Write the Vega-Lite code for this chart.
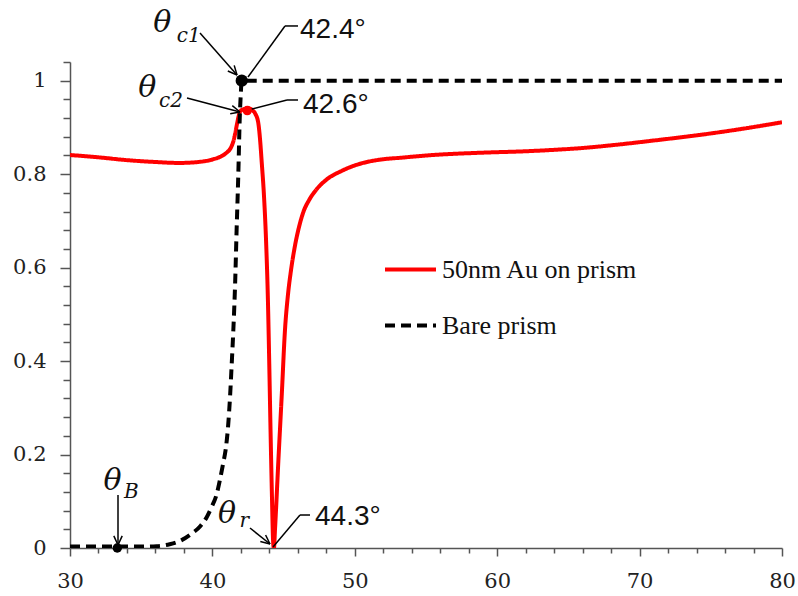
{
  "$schema": "https://vega.github.io/schema/vega-lite/v6.json",
  "width": 712,
  "height": 486,
  "autosize": {"type": "none"},
  "padding": {"left": 70, "top": 62, "right": 16, "bottom": 48},
  "background": "white",
  "config": {
    "view": {"stroke": null},
    "axis": {"grid": false, "title": null}
  },
  "datasets": {
    "curves": [
      {"x": 30, "y": 0.841, "series": "50nm Au on prism"},
      {"x": 32, "y": 0.836, "series": "50nm Au on prism"},
      {"x": 34, "y": 0.83, "series": "50nm Au on prism"},
      {"x": 36, "y": 0.826, "series": "50nm Au on prism"},
      {"x": 37.7, "y": 0.824, "series": "50nm Au on prism"},
      {"x": 39, "y": 0.826, "series": "50nm Au on prism"},
      {"x": 40.07, "y": 0.832, "series": "50nm Au on prism"},
      {"x": 40.6, "y": 0.838, "series": "50nm Au on prism"},
      {"x": 41.0, "y": 0.846, "series": "50nm Au on prism"},
      {"x": 41.3, "y": 0.857, "series": "50nm Au on prism"},
      {"x": 41.47, "y": 0.87, "series": "50nm Au on prism"},
      {"x": 41.6, "y": 0.887, "series": "50nm Au on prism"},
      {"x": 41.72, "y": 0.906, "series": "50nm Au on prism"},
      {"x": 41.85, "y": 0.925, "series": "50nm Au on prism"},
      {"x": 41.94, "y": 0.934, "series": "50nm Au on prism"},
      {"x": 42.2, "y": 0.939, "series": "50nm Au on prism"},
      {"x": 42.52, "y": 0.941, "series": "50nm Au on prism"},
      {"x": 42.8, "y": 0.937, "series": "50nm Au on prism"},
      {"x": 43.0, "y": 0.93, "series": "50nm Au on prism"},
      {"x": 43.22, "y": 0.91, "series": "50nm Au on prism"},
      {"x": 43.35, "y": 0.873, "series": "50nm Au on prism"},
      {"x": 43.46, "y": 0.827, "series": "50nm Au on prism"},
      {"x": 43.62, "y": 0.755, "series": "50nm Au on prism"},
      {"x": 43.78, "y": 0.648, "series": "50nm Au on prism"},
      {"x": 43.89, "y": 0.541, "series": "50nm Au on prism"},
      {"x": 43.99, "y": 0.399, "series": "50nm Au on prism"},
      {"x": 44.08, "y": 0.256, "series": "50nm Au on prism"},
      {"x": 44.18, "y": 0.113, "series": "50nm Au on prism"},
      {"x": 44.27, "y": 0.01, "series": "50nm Au on prism"},
      {"x": 44.32, "y": 0.0, "series": "50nm Au on prism"},
      {"x": 44.4, "y": 0.042, "series": "50nm Au on prism"},
      {"x": 44.63, "y": 0.185, "series": "50nm Au on prism"},
      {"x": 44.87, "y": 0.327, "series": "50nm Au on prism"},
      {"x": 45.1, "y": 0.468, "series": "50nm Au on prism"},
      {"x": 45.3, "y": 0.54, "series": "50nm Au on prism"},
      {"x": 45.5, "y": 0.59, "series": "50nm Au on prism"},
      {"x": 45.8, "y": 0.647, "series": "50nm Au on prism"},
      {"x": 46.1, "y": 0.689, "series": "50nm Au on prism"},
      {"x": 46.4, "y": 0.72, "series": "50nm Au on prism"},
      {"x": 46.8, "y": 0.745, "series": "50nm Au on prism"},
      {"x": 47.3, "y": 0.767, "series": "50nm Au on prism"},
      {"x": 48.0, "y": 0.788, "series": "50nm Au on prism"},
      {"x": 49.08, "y": 0.807, "series": "50nm Au on prism"},
      {"x": 50.13, "y": 0.82, "series": "50nm Au on prism"},
      {"x": 51.0, "y": 0.827, "series": "50nm Au on prism"},
      {"x": 52.0, "y": 0.832, "series": "50nm Au on prism"},
      {"x": 53.17, "y": 0.835, "series": "50nm Au on prism"},
      {"x": 55.5, "y": 0.841, "series": "50nm Au on prism"},
      {"x": 59.0, "y": 0.846, "series": "50nm Au on prism"},
      {"x": 62.0, "y": 0.849, "series": "50nm Au on prism"},
      {"x": 64, "y": 0.852, "series": "50nm Au on prism"},
      {"x": 66, "y": 0.856, "series": "50nm Au on prism"},
      {"x": 68.4, "y": 0.863, "series": "50nm Au on prism"},
      {"x": 71, "y": 0.872, "series": "50nm Au on prism"},
      {"x": 74.24, "y": 0.884, "series": "50nm Au on prism"},
      {"x": 77, "y": 0.896, "series": "50nm Au on prism"},
      {"x": 80, "y": 0.911, "series": "50nm Au on prism"},
      {"x": 30, "y": 0.003, "series": "Bare prism"},
      {"x": 33, "y": 0.003, "series": "Bare prism"},
      {"x": 35, "y": 0.003, "series": "Bare prism"},
      {"x": 36.09, "y": 0.004, "series": "Bare prism"},
      {"x": 37, "y": 0.008, "series": "Bare prism"},
      {"x": 37.72, "y": 0.015, "series": "Bare prism"},
      {"x": 38.5, "y": 0.03, "series": "Bare prism"},
      {"x": 39.13, "y": 0.046, "series": "Bare prism"},
      {"x": 39.6, "y": 0.066, "series": "Bare prism"},
      {"x": 39.95, "y": 0.088, "series": "Bare prism"},
      {"x": 40.3, "y": 0.115, "series": "Bare prism"},
      {"x": 40.53, "y": 0.146, "series": "Bare prism"},
      {"x": 40.75, "y": 0.18, "series": "Bare prism"},
      {"x": 40.96, "y": 0.217, "series": "Bare prism"},
      {"x": 41.1, "y": 0.26, "series": "Bare prism"},
      {"x": 41.24, "y": 0.324, "series": "Bare prism"},
      {"x": 41.35, "y": 0.39, "series": "Bare prism"},
      {"x": 41.47, "y": 0.466, "series": "Bare prism"},
      {"x": 41.6, "y": 0.57, "series": "Bare prism"},
      {"x": 41.7, "y": 0.68, "series": "Bare prism"},
      {"x": 41.82, "y": 0.8, "series": "Bare prism"},
      {"x": 41.92, "y": 0.92, "series": "Bare prism"},
      {"x": 42.0, "y": 0.975, "series": "Bare prism"},
      {"x": 42.05, "y": 1.0, "series": "Bare prism"},
      {"x": 80, "y": 1.0, "series": "Bare prism"}
    ],
    "blackdots": [
      {"x": 42.06, "y": 1.0, "size": "big"},
      {"x": 33.32, "y": 0.0, "size": "small"}
    ],
    "peak": [
      {"x": 42.45, "y": 0.936}
    ],
    "segments": [
      {"x": 39.129, "y": 1.1021, "x2": 41.728, "y2": 1.0122},
      {"x": 41.728, "y": 1.0122, "x2": 41.531, "y2": 1.0327},
      {"x": 41.728, "y": 1.0122, "x2": 41.082, "y2": 1.0208},
      {"x": 38.216, "y": 0.963, "x2": 41.938, "y2": 0.933},
      {"x": 41.938, "y": 0.933, "x2": 41.397, "y2": 0.9467},
      {"x": 41.938, "y": 0.933, "x2": 41.25, "y2": 0.9292},
      {"x": 33.371, "y": 0.1134, "x2": 33.371, "y2": 0.0064},
      {"x": 33.371, "y": 0.0064, "x2": 33.666, "y2": 0.0259},
      {"x": 33.371, "y": 0.0064, "x2": 33.076, "y2": 0.0259},
      {"x": 42.64, "y": 0.0428, "x2": 44.045, "y2": 0.0086},
      {"x": 44.045, "y": 0.0086, "x2": 43.736, "y2": 0.0278},
      {"x": 44.045, "y": 0.0086, "x2": 43.364, "y2": 0.0137},
      {"x": 45.098, "y": 1.1171, "x2": 46.011, "y2": 1.1171},
      {"x": 45.098, "y": 1.1171, "x2": 42.5, "y2": 1.0079},
      {"x": 45.239, "y": 0.9587, "x2": 46.011, "y2": 0.9587},
      {"x": 45.239, "y": 0.9587, "x2": 42.5, "y2": 0.9373},
      {"x": 46.152, "y": 0.0706, "x2": 46.854, "y2": 0.0706},
      {"x": 46.152, "y": 0.0706, "x2": 44.256, "y2": 0.0021}
    ],
    "anglelabels": [
      {"x": 46.152, "y": 1.0914, "text": "42.4°"},
      {"x": 46.362, "y": 0.9309, "text": "42.6°"},
      {"x": 47.205, "y": 0.0492, "text": "44.3°"}
    ],
    "thetas": [
      {"x": 35.85, "y": 1.1042, "text": "θ"},
      {"x": 34.8, "y": 0.9651, "text": "θ"},
      {"x": 32.35, "y": 0.1241, "text": "θ"},
      {"x": 40.4, "y": 0.0535, "text": "θ"}
    ],
    "subs": [
      {"x": 37.5, "y": 1.0828, "text": "c1"},
      {"x": 36.25, "y": 0.9437, "text": "c2"},
      {"x": 33.8, "y": 0.107, "text": "B"},
      {"x": 41.9, "y": 0.0449, "text": "r"}
    ]
  },
  "layer": [
    {
      "data": {"name": "curves"},
      "mark": {"type": "line", "strokeWidth": 4, "interpolate": "monotone", "clip": true},
      "encoding": {
        "x": {
          "field": "x", "type": "quantitative",
          "scale": {"domain": [30, 80], "nice": false, "zero": false},
          "axis": {
            "values": [30, 32, 34, 36, 38, 40, 42, 44, 46, 48, 50, 52, 54, 56, 58, 60, 62, 64, 66, 68, 70, 72, 74, 76, 78, 80],
            "tickCount": 200,
            "labelExpr": "datum.value % 10 == 0 ? datum.label : ''",
            "format": "~g",
            "tickSize": {"condition": {"test": "datum.value % 10 == 0", "value": 8}, "value": 5},
            "labelPadding": 14,
            "labelFlush": false,
            "labelOverlap": false,
            "labelBound": false,
            "domainColor": "#555555",
            "domainWidth": 1.5,
            "tickColor": "#555555",
            "tickWidth": 1.5,
            "labelFont": "DejaVu Serif",
            "labelFontSize": 21,
            "labelColor": "#222222",
            "title": null
          }
        },
        "y": {
          "field": "y", "type": "quantitative",
          "scale": {"domain": [0, 1.04], "nice": false, "zero": false},
          "axis": {
            "values": [0, 0.04, 0.08, 0.12, 0.16, 0.2, 0.24, 0.28, 0.32, 0.36, 0.4, 0.44, 0.48, 0.52, 0.56, 0.6, 0.64, 0.68, 0.72, 0.76, 0.8, 0.84, 0.88, 0.92, 0.96, 1, 1.04],
            "tickCount": 200,
            "labelExpr": "abs(datum.value*5 - round(datum.value*5)) < 0.001 ? datum.label : ''",
            "format": "~g",
            "tickSize": {"condition": {"test": "abs(datum.value*5 - round(datum.value*5)) < 0.001", "value": 10}, "value": 7},
            "labelPadding": 14,
            "labelFlush": false,
            "labelOverlap": false,
            "labelBound": false,
            "domainColor": "#555555",
            "domainWidth": 1.5,
            "tickColor": "#555555",
            "tickWidth": 1.5,
            "labelFont": "DejaVu Serif",
            "labelFontSize": 21,
            "labelColor": "#222222",
            "title": null
          }
        },
        "color": {
          "field": "series", "type": "nominal",
          "scale": {"domain": ["50nm Au on prism", "Bare prism"], "range": ["#ff0000", "#000000"]},
          "legend": {
            "orient": "none",
            "legendX": 313,
            "legendY": 180,
            "title": null,
            "padding": 0,
            "symbolType": "stroke",
            "symbolSize": 2601,
            "symbolStrokeWidth": 4,
            "labelFont": "Liberation Serif",
            "labelFontSize": 26,
            "labelLimit": 500,
            "labelColor": "#111111",
            "labelOffset": 4,
            "rowPadding": 15
          }
        },
        "strokeDash": {
          "field": "series", "type": "nominal",
          "scale": {"domain": ["50nm Au on prism", "Bare prism"], "range": [[1, 0], [10, 6]]},
          "legend": {
            "orient": "none",
            "legendX": 313,
            "legendY": 180,
            "title": null,
            "padding": 0,
            "symbolType": "stroke",
            "symbolSize": 2601,
            "symbolStrokeWidth": 4,
            "labelFont": "Liberation Serif",
            "labelFontSize": 26,
            "labelLimit": 500,
            "labelColor": "#111111",
            "labelOffset": 4,
            "rowPadding": 15
          }
        }
      }
    },
    {
      "data": {"name": "segments"},
      "mark": {"type": "rule", "color": "#000000", "strokeWidth": 1.5},
      "encoding": {
        "x": {"field": "x", "type": "quantitative"},
        "y": {"field": "y", "type": "quantitative"},
        "x2": {"field": "x2"},
        "y2": {"field": "y2"}
      }
    },
    {
      "data": {"name": "peak"},
      "mark": {"type": "point", "filled": true, "color": "#ff0000", "size": 90, "opacity": 1},
      "encoding": {
        "x": {"field": "x", "type": "quantitative"},
        "y": {"field": "y", "type": "quantitative"}
      }
    },
    {
      "data": {"name": "blackdots"},
      "mark": {"type": "point", "filled": true, "color": "#000000", "opacity": 1},
      "encoding": {
        "x": {"field": "x", "type": "quantitative"},
        "y": {"field": "y", "type": "quantitative"},
        "size": {"field": "size", "type": "nominal", "scale": {"domain": ["big", "small"], "range": [150, 90]}, "legend": null}
      }
    },
    {
      "data": {"name": "anglelabels"},
      "mark": {"type": "text", "align": "left", "baseline": "alphabetic", "font": "Liberation Sans", "fontSize": 28, "color": "#111111"},
      "encoding": {
        "x": {"field": "x", "type": "quantitative"},
        "y": {"field": "y", "type": "quantitative"},
        "text": {"field": "text"}
      }
    },
    {
      "data": {"name": "thetas"},
      "mark": {"type": "text", "align": "left", "baseline": "alphabetic", "font": "DejaVu Serif", "fontStyle": "italic", "fontSize": 30, "color": "#111111"},
      "encoding": {
        "x": {"field": "x", "type": "quantitative"},
        "y": {"field": "y", "type": "quantitative"},
        "text": {"field": "text"}
      }
    },
    {
      "data": {"name": "subs"},
      "mark": {"type": "text", "align": "left", "baseline": "alphabetic", "font": "DejaVu Serif", "fontStyle": "italic", "fontSize": 20, "color": "#111111"},
      "encoding": {
        "x": {"field": "x", "type": "quantitative"},
        "y": {"field": "y", "type": "quantitative"},
        "text": {"field": "text"}
      }
    }
  ]
}
